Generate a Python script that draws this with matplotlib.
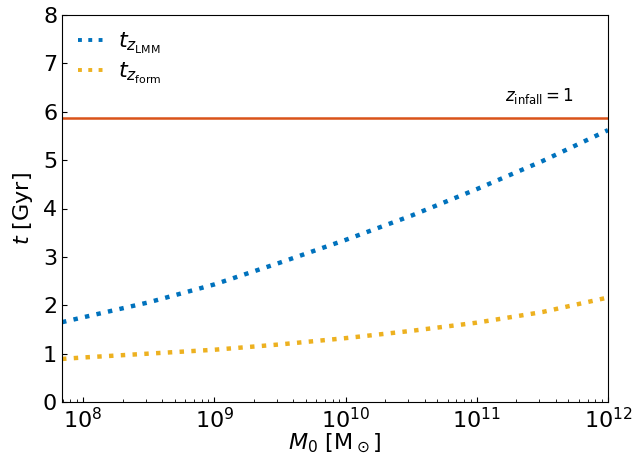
import numpy as np
import matplotlib
matplotlib.use("Agg")
import matplotlib.pyplot as plt

log_mass = [7.84, 8.0, 8.5, 9.0, 9.5, 10.0, 10.5, 11.0, 11.5, 12.0]
t_lmm = [1.65, 1.75, 2.06, 2.43, 2.88, 3.35, 3.85, 4.40, 4.98, 5.62]
t_form = [0.89, 0.92, 1.00, 1.08, 1.19, 1.32, 1.47, 1.64, 1.86, 2.16]
t_infall = 5.88

mass = 10 ** np.array(log_mass)

fig = plt.figure(figsize=(6.44, 4.55), dpi=100)
ax = fig.add_axes([62/644, 1 - 402/455, (608-62)/644, (402-15)/455])

ax.plot(mass, t_lmm, ls=':', lw=3.2, color='#0072BD', label=r'$t_{z_{\rm LMM}}$')
ax.plot(mass, t_form, ls=':', lw=3.2, color='#EDB120', label=r'$t_{z_{\rm form}}$')
ax.axhline(t_infall, color='#D95319', lw=1.8)
ax.text(10**11.48, 6.33, r'$z_{\rm infall}=1$', fontsize=12, ha='center', va='center')

ax.set_xscale('log')
ax.set_xlim(10**7.84, 1e12)
ax.set_ylim(0, 8)
ax.set_xticks([1e8, 1e9, 1e10, 1e11, 1e12])
ax.tick_params(which='both', direction='in', labelsize=16)
ax.set_xlabel(r'$M_0\ [\mathrm{M}_\odot]$', fontsize=16, labelpad=0)
ax.set_ylabel(r'$t$ [Gyr]', fontsize=16, labelpad=6)
leg = ax.legend(loc='upper left', frameon=False, fontsize=16, handlelength=1.2,
                handletextpad=0.6, borderaxespad=0.3, labelspacing=0.25)
for h in leg.get_lines():
    h.set_linewidth(2.8)

fig.savefig('out.png', dpi=100)
